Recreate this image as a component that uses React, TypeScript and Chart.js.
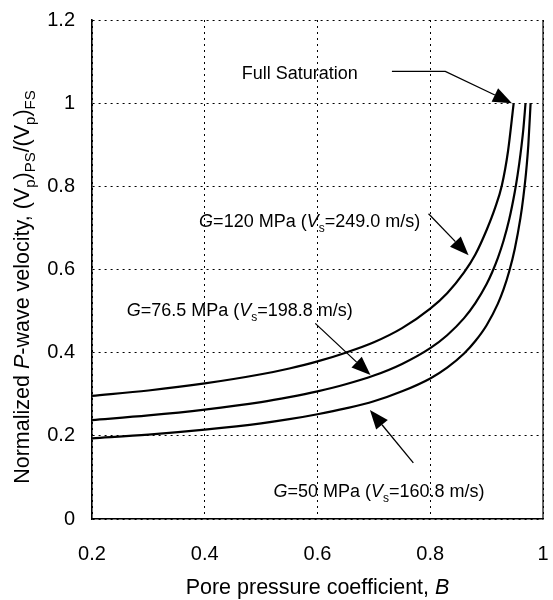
import React, { useEffect, useRef } from "react";
import { Chart, registerables } from "chart.js";

Chart.register(...registerables);

// ---- tick values / labels ----
const xTicks = [0.2, 0.4, 0.6, 0.8, 1];
const xTickLabels = ["0.2", "0.4", "0.6", "0.8", "1"];
const yTicks = [0, 0.2, 0.4, 0.6, 0.8, 1, 1.2];
const yTickLabels = ["0", "0.2", "0.4", "0.6", "0.8", "1", "1.2"];

// ---- series (pore pressure coefficient B, normalized Vp) ----
const seriesNames = ["G=120 MPa", "G=76.5 MPa", "G=50 MPa"];

const bG120 = [0.2, 0.3, 0.4, 0.5, 0.55, 0.6, 0.65, 0.7, 0.75, 0.8, 0.83, 0.86, 0.88, 0.9, 0.915, 0.927, 0.938, 0.948];
const vG120 = [0.296, 0.309, 0.326, 0.348, 0.362, 0.379, 0.4, 0.425, 0.459, 0.506, 0.543, 0.593, 0.636, 0.695, 0.748, 0.802, 0.885, 1.0];

const bG76 = [0.2, 0.3, 0.4, 0.5, 0.55, 0.6, 0.65, 0.7, 0.75, 0.8, 0.83, 0.86, 0.88, 0.9, 0.91, 0.92, 0.93, 0.94, 0.95, 0.955, 0.96, 0.965, 0.969];
const vG76 = [0.238, 0.249, 0.263, 0.281, 0.293, 0.307, 0.324, 0.345, 0.373, 0.411, 0.442, 0.483, 0.519, 0.565, 0.594, 0.628, 0.669, 0.72, 0.787, 0.828, 0.877, 0.936, 1.0];

const bG50 = [0.2, 0.3, 0.4, 0.5, 0.55, 0.6, 0.65, 0.7, 0.75, 0.8, 0.83, 0.86, 0.88, 0.9, 0.92, 0.93, 0.94, 0.95, 0.96, 0.965, 0.97, 0.974, 0.978];
const vG50 = [0.194, 0.203, 0.215, 0.23, 0.24, 0.252, 0.266, 0.283, 0.307, 0.338, 0.364, 0.398, 0.428, 0.466, 0.518, 0.552, 0.595, 0.65, 0.724, 0.773, 0.834, 0.9, 1.0];

// ---- annotation texts (anchored in data coordinates) ----
type Seg = { t: string; i?: boolean; sub?: boolean };
const labelFull: Seg[] = [{ t: "Full Saturation" }];
const label120: Seg[] = [{ t: "G", i: true }, { t: "=120 MPa (" }, { t: "V", i: true }, { t: "s", sub: true }, { t: "=249.0 m/s)" }];
const label76: Seg[] = [{ t: "G", i: true }, { t: "=76.5 MPa (" }, { t: "V", i: true }, { t: "s", sub: true }, { t: "=198.8 m/s)" }];
const label50: Seg[] = [{ t: "G", i: true }, { t: "=50 MPa (" }, { t: "V", i: true }, { t: "s", sub: true }, { t: "=160.8 m/s)" }];

const annotations = [
  { segs: labelFull, x: 0.4656, y: 1.0583 },
  { segs: label120, x: 0.39, y: 0.7015 },
  { segs: label76, x: 0.2616, y: 0.489 },
  { segs: label50, x: 0.5218, y: 0.0535 },
];

const arrows: number[][][] = [
  [[0.732, 1.0766], [0.8267, 1.0766], [0.945, 1.0]],
  [[0.797, 0.734], [0.868, 0.634]],
  [[0.596, 0.4704], [0.694, 0.346]],
  [[0.77, 0.135], [0.693, 0.262]],
];

const xTitle: Seg[] = [{ t: "Pore pressure coefficient, " }, { t: "B", i: true }];
const yTitle: Seg[] = [
  { t: "Normalized " }, { t: "P", i: true }, { t: "-wave velocity, (V" }, { t: "p", sub: true },
  { t: ")" }, { t: "PS", sub: true }, { t: "/(V" }, { t: "p", sub: true }, { t: ")" }, { t: "FS", sub: true },
];

const FONT = "'Liberation Sans', Arial, Helvetica, sans-serif";

function segFont(s: Seg, size: number) {
  const sz = s.sub ? Math.round(size * 0.68) : size;
  return `${s.i ? "italic " : ""}${sz}px ${FONT}`;
}

function richWidth(ctx: CanvasRenderingContext2D, segs: Seg[], size: number) {
  let w = 0;
  for (const s of segs) {
    ctx.font = segFont(s, size);
    w += ctx.measureText(s.t).width;
  }
  return w;
}

function drawRich(ctx: CanvasRenderingContext2D, segs: Seg[], x: number, y: number, size: number) {
  let cx = x;
  ctx.textBaseline = "alphabetic";
  ctx.textAlign = "left";
  for (const s of segs) {
    ctx.font = segFont(s, size);
    ctx.fillText(s.t, cx, s.sub ? y + size * 0.28 : y);
    cx += ctx.measureText(s.t).width;
  }
}

const annotPlugin = {
  id: "annot",
  afterDraw(chart: any) {
    const ctx: CanvasRenderingContext2D = chart.ctx;
    const xs = chart.scales.x;
    const ys = chart.scales.y;
    const area = chart.chartArea;
    ctx.save();
    ctx.fillStyle = "#000";
    ctx.strokeStyle = "#000";

    // right frame edge
    ctx.lineWidth = 1.2;
    ctx.beginPath();
    ctx.moveTo(area.right, area.top);
    ctx.lineTo(area.right, area.bottom);
    ctx.stroke();

    // labels
    for (const a of annotations) {
      drawRich(ctx, a.segs, xs.getPixelForValue(a.x), ys.getPixelForValue(a.y), 18);
    }

    // arrows
    for (const pts of arrows) {
      const p = pts.map(([bx, vy]) => [xs.getPixelForValue(bx), ys.getPixelForValue(vy)]);
      const n = p.length;
      const [tx, ty] = p[n - 1];
      const [sx, sy] = p[n - 2];
      const ang = Math.atan2(ty - sy, tx - sx);
      const L = 19;
      const W = 7.5;
      const bx = tx - L * Math.cos(ang);
      const by = ty - L * Math.sin(ang);
      ctx.lineWidth = 1.3;
      ctx.beginPath();
      ctx.moveTo(p[0][0], p[0][1]);
      for (let i = 1; i < n - 1; i++) ctx.lineTo(p[i][0], p[i][1]);
      ctx.lineTo(bx, by);
      ctx.stroke();
      ctx.beginPath();
      ctx.moveTo(tx, ty);
      ctx.lineTo(bx + W * Math.sin(ang), by - W * Math.cos(ang));
      ctx.lineTo(bx - W * Math.sin(ang), by + W * Math.cos(ang));
      ctx.closePath();
      ctx.fill();
    }

    // axis titles
    const tsize = 21.5;
    const xw = richWidth(ctx, xTitle, tsize);
    drawRich(ctx, xTitle, (area.left + area.right) / 2 - xw / 2, 594, tsize);

    const yw = richWidth(ctx, yTitle, tsize);
    ctx.translate(29, 287);
    ctx.rotate(-Math.PI / 2);
    drawRich(ctx, yTitle, -yw / 2, 0, tsize);
    ctx.restore();
  },
};

function labelFor(ticks: number[], labels: string[], v: number) {
  const i = ticks.findIndex((t) => Math.abs(t - v) < 1e-9);
  return i >= 0 ? labels[i] : "";
}

function zeroPad(s: any) {
  s.paddingLeft = 0;
  s.paddingRight = 0;
  s.paddingTop = 0;
  s.paddingBottom = 0;
}

export default function App() {
  const ref = useRef<HTMLCanvasElement | null>(null);

  useEffect(() => {
    if (!ref.current) return;
    const mk = (bs: number[], vs: number[], name: string) => ({
      label: name,
      data: bs.map((b, i) => ({ x: b, y: vs[i] })),
      borderColor: "#000",
      backgroundColor: "#000",
      borderWidth: 2.2,
      pointRadius: 0,
      fill: false,
      cubicInterpolationMode: "monotone" as const,
    });
    const chart = new Chart(ref.current, {
      type: "line",
      data: {
        datasets: [
          mk(bG120, vG120, seriesNames[0]),
          mk(bG76, vG76, seriesNames[1]),
          mk(bG50, vG50, seriesNames[2]),
        ],
      },
      options: {
        animation: false,
        responsive: false,
        maintainAspectRatio: false,
        layout: { padding: { left: 0, right: 10, top: 20, bottom: 0 } },
        plugins: { legend: { display: false }, tooltip: { enabled: false } },
        scales: {
          x: {
            type: "linear",
            min: 0.2,
            max: 1,
            afterBuildTicks: (s: any) => {
              s.ticks = xTicks.map((v) => ({ value: v }));
            },
            afterFit: (s: any) => {
              s.height = 81;
              zeroPad(s);
            },
            ticks: {
              color: "#000",
              font: { family: FONT, size: 20 },
              padding: 23,
              maxRotation: 0,
              autoSkip: false,
              callback: (v: any) => labelFor(xTicks, xTickLabels, Number(v)),
            },
            grid: { color: "#000", lineWidth: 1, drawTicks: false },
            border: { display: true, color: "#000", width: 1.6, dash: [2, 4] },
          },
          y: {
            type: "linear",
            min: 0,
            max: 1.2,
            afterBuildTicks: (s: any) => {
              s.ticks = yTicks.map((v) => ({ value: v }));
            },
            afterFit: (s: any) => {
              s.width = 92;
              zeroPad(s);
            },
            ticks: {
              color: "#000",
              font: { family: FONT, size: 20 },
              padding: 17,
              autoSkip: false,
              callback: (v: any) => labelFor(yTicks, yTickLabels, Number(v)),
            },
            grid: { color: "#000", lineWidth: 1, drawTicks: false },
            border: { display: true, color: "#000", width: 1.6, dash: [2, 4] },
          },
        },
      },
      plugins: [annotPlugin],
    });
    return () => chart.destroy();
  }, []);

  return (
    <div style={{ position: "absolute", left: 0, top: 0, width: 553, height: 600, background: "#fff" }}>
      <canvas ref={ref} width={553} height={600} style={{ display: "block", width: 553, height: 600 }} />
    </div>
  );
}
